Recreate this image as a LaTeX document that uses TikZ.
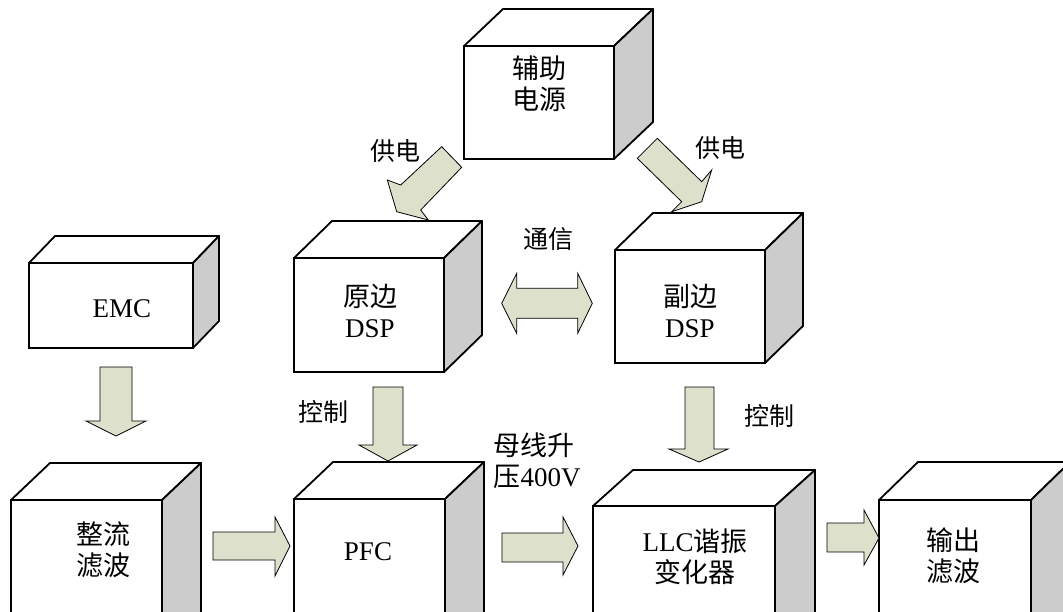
\documentclass[tikz,border=0pt]{standalone}
\usepackage{fontspec}
\setmainfont{Liberation Serif}
\newfontfamily\cjk{Noto Sans CJK SC}
\usetikzlibrary{calc,fit}
\definecolor{arrowfill}{RGB}{221,225,204}
\definecolor{sidegray}{RGB}{204,204,204}
\tikzset{
  front/.style={draw, line width=1.8pt, fill=white, inner sep=0pt, outer sep=0pt},
  topface/.style={draw, line width=1.8pt, fill=white, line join=round},
  sideface/.style={draw, line width=1.8pt, fill=sidegray, line join=round},
  blockarrow/.style={draw, line width=0.8pt, fill=arrowfill, line join=miter},
  lbl/.style={font=\cjk\fontsize{25}{31}\selectfont, inner sep=0pt},
  boxtext/.style={align=center, inner sep=0pt, font=\fontsize{27}{31}\selectfont},
}
\newcommand\cubefaces[3]{%
  \filldraw[topface] (#1.north west) -- ++(#2,-#3) -- ($(#1.north east)+(#2,-#3)$) -- (#1.north east) -- cycle;
  \filldraw[sideface] (#1.north east) -- ++(#2,-#3) -- ($(#1.south east)+(#2,-#3)$) -- (#1.south east) -- cycle;
}
\begin{document}
\begin{tikzpicture}[x=1pt,y=-1pt]
\useasboundingbox (0,0) rectangle (1063,611);
\clip (0,0) rectangle (1063,611);
\fill[white] (0,0) rectangle (1063,611);

% boxes
\node[front, fit={(464,46) (614,159)}] (fuzhu) {};
\cubefaces{fuzhu}{39}{37}
\node[front, fit={(29,263) (193,348)}] (emc) {};
\cubefaces{emc}{26}{27}
\node[front, fit={(294,258) (444,372)}] (yuan) {};
\cubefaces{yuan}{38}{37}
\node[front, fit={(615,250) (765,363)}] (fu) {};
\cubefaces{fu}{38}{37}
\node[front, fit={(11,500) (162,650)}] (zheng) {};
\cubefaces{zheng}{39}{37}
\node[front, fit={(294,499) (445,650)}] (pfc) {};
\cubefaces{pfc}{39}{37}
\node[front, fit={(593,506) (775,650)}] (llc) {};
\cubefaces{llc}{40}{36}
\node[front, fit={(879,500) (1031,650)}] (shuchu) {};
\cubefaces{shuchu}{39}{38}

% box texts
\node[boxtext] (fuzhuT) at (539,84) {{\cjk 辅助}\\{\cjk 电源}};
\node[boxtext] (emcT) at (122,309) {EMC};
\node[boxtext] (yuanT) at (370,311) {{\cjk 原边}\\DSP};
\node[boxtext] (fuT) at (690,311) {{\cjk 副边}\\DSP};
\node[boxtext] (zhengT) at (103,550) {{\cjk 整流}\\{\cjk 滤波}};
\node[boxtext] (pfcT) at (368,552) {PFC};
\node[boxtext] (llcT) at (695,557) {LLC{\cjk 谐振}\\{\cjk 变化器}};
\node[boxtext] (shuchuT) at (953,556) {{\cjk 输出}\\{\cjk 滤波}};

% block arrows
% auxiliary power -> primary DSP
\filldraw[blockarrow] (441.7,146.7) -- (461.7,167.3) -- (420.7,210) -- (428.3,220) -- (396.7,211.7) -- (387.3,180) -- (400.7,185) -- cycle;
% auxiliary power -> secondary DSP
\filldraw[blockarrow] (637.3,158.3) -- (657.3,138.3) -- (701.7,181.7) -- (711.7,170) -- (701.7,201.7) -- (671.7,211.7) -- (681.7,201.7) -- cycle;
% communication double arrow
\filldraw[blockarrow] (501.7,303.3) -- (516.7,273.3) -- (516.7,288.3) -- (577.7,288.3) -- (577.7,273.3) -- (592.3,303.3) -- (577.7,333.3) -- (577.7,318.3) -- (516.7,318.3) -- (516.7,333.3) -- cycle;
% EMC -> rectifier
\filldraw[blockarrow] (100,367) -- (132,367) -- (132,421) -- (146,421) -- (116,436) -- (86,421) -- (100,421) -- cycle;
% primary DSP -> PFC
\filldraw[blockarrow] (373,387) -- (403,387) -- (403,445) -- (417,445) -- (388,461) -- (359,445) -- (373,445) -- cycle;
% secondary DSP -> LLC
\filldraw[blockarrow] (685,387) -- (714,387) -- (714,449) -- (728,449) -- (699,462) -- (669,449) -- (685,449) -- cycle;
% rectifier -> PFC
\filldraw[blockarrow] (213,532) -- (275,532) -- (275,517) -- (290,546) -- (275,576) -- (275,560) -- (213,560) -- cycle;
% PFC -> LLC
\filldraw[blockarrow] (502,533) -- (563,533) -- (563,517) -- (578,546) -- (563,575) -- (563,562) -- (502,562) -- cycle;
% LLC -> output filter
\filldraw[blockarrow] (827,523) -- (864,523) -- (864,510) -- (879,538) -- (864,565) -- (864,552) -- (827,552) -- cycle;

% labels
\node[lbl] (gd1) at (395,151) {供电};
\node[lbl] (gd2) at (720,148) {供电};
\node[lbl] (tx) at (548,239) {通信};
\node[lbl] (kz1) at (323,412) {控制};
\node[lbl] (kz2) at (769,416) {控制};
\node[boxtext, align=left] (bus) at (537,461) {{\cjk 母线升}\\{\cjk 压}400V};
\end{tikzpicture}
\end{document}
